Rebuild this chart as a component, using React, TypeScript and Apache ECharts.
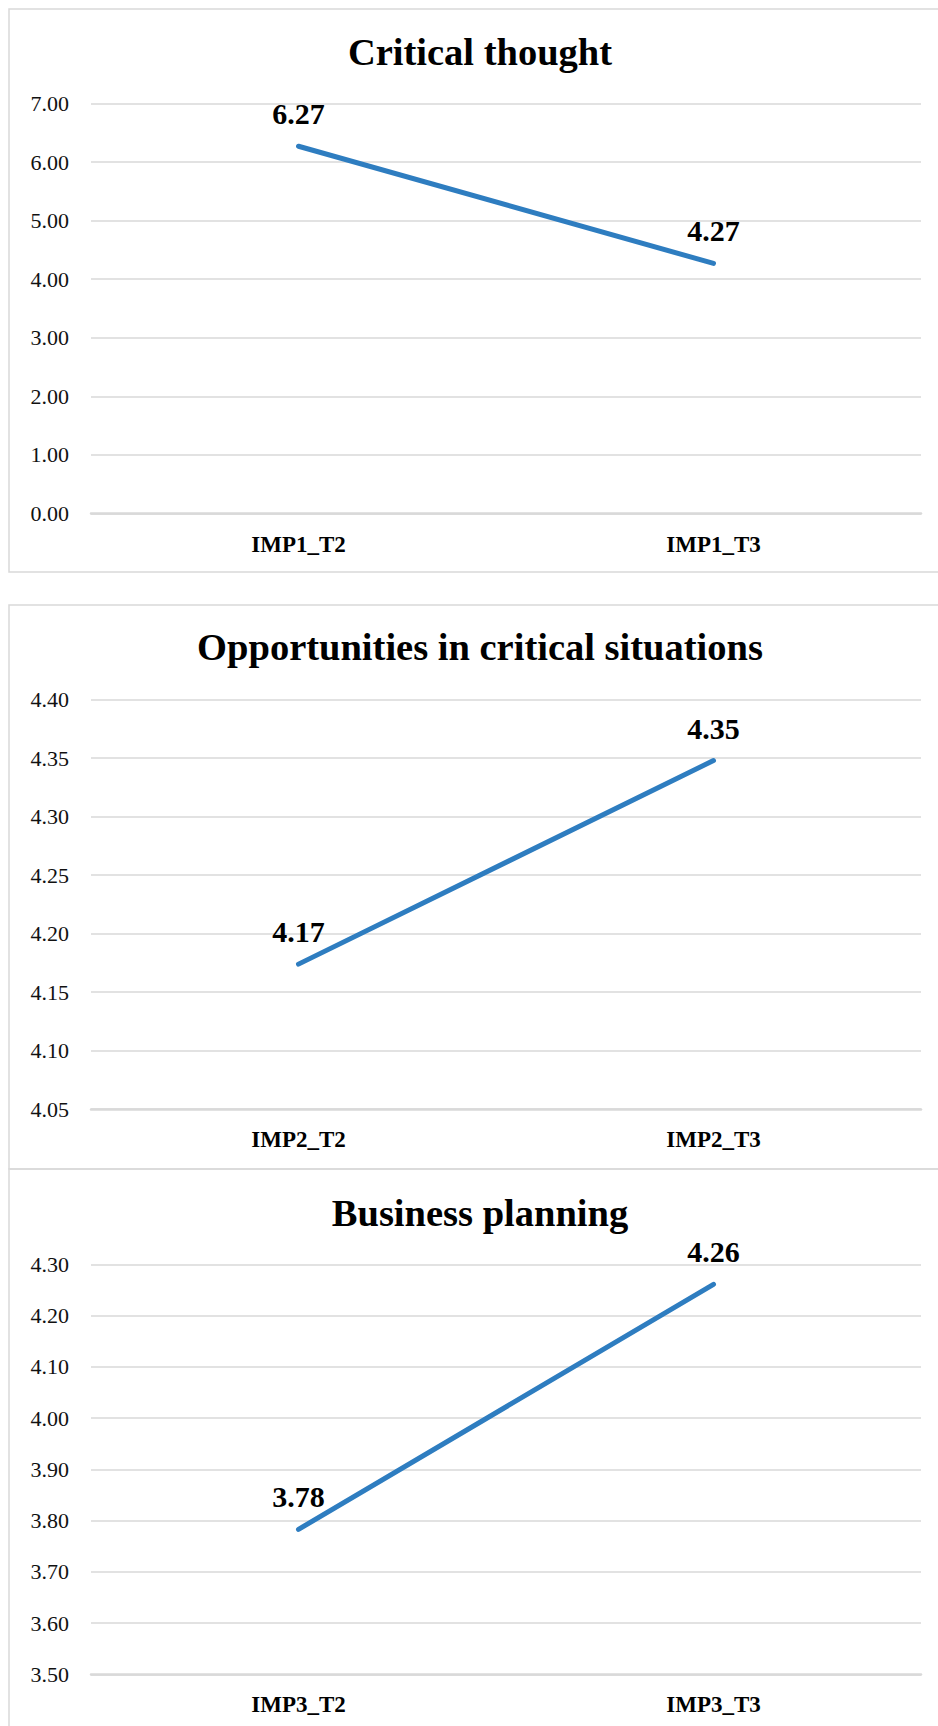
import React, { useEffect, useRef } from "react";
import * as echarts from "echarts";

const titles = ["Critical thought", "Opportunities in critical situations", "Business planning"];
const categories1 = ["IMP1_T2", "IMP1_T3"];
const categories2 = ["IMP2_T2", "IMP2_T3"];
const categories3 = ["IMP3_T2", "IMP3_T3"];
const values1 = [6.27, 4.27];
const values2 = [4.174, 4.348];
const values3 = [3.783, 4.261];
const yMin = [0, 4.05, 3.5];
const yMax = [7, 4.4, 4.3];
const yInterval = [1, 0.05, 0.1];

const FONT = "'Liberation Serif', 'Times New Roman', serif";
const GRID_COLOR = "#d9d9d9";
const LINE_COLOR = "#2E7DC0";

export default function App() {
  const ref = useRef<HTMLDivElement>(null);
  useEffect(() => {
    if (!ref.current) return;
    const chart = echarts.init(ref.current, null, { renderer: "svg" });
    const cats = [categories1, categories2, categories3];
    const vals = [values1, values2, values3];
    const gridTops = [103.5, 699.7, 1264.4];
    const gridH = [410, 409.5, 410];
    const titleY = [47, 642, 1208];
    const option: any = {
      animation: false,
      backgroundColor: "#ffffff",
      title: titles.map((t, i) => ({
        text: t,
        left: 475,
        top: titleY[i],
        textAlign: "center",
        textVerticalAlign: "middle",
        textStyle: { fontFamily: FONT, fontWeight: "bold", fontSize: 38.5, color: "#000" },
      })),
      graphic: [
        { type: "rect", shape: { x: 9, y: 9, width: 940, height: 563 }, style: { fill: "none", stroke: GRID_COLOR, lineWidth: 1.5 }, silent: true, z: -1 },
        { type: "rect", shape: { x: 9, y: 605, width: 940, height: 564 }, style: { fill: "none", stroke: GRID_COLOR, lineWidth: 1.5 }, silent: true, z: -1 },
        { type: "rect", shape: { x: 9, y: 1169, width: 940, height: 580 }, style: { fill: "none", stroke: GRID_COLOR, lineWidth: 1.5 }, silent: true, z: -1 },
      ],
      grid: gridTops.map((t, i) => ({ left: 91, width: 830, top: t, height: gridH[i] })),
      xAxis: cats.map((c, i) => ({
        type: "category",
        gridIndex: i,
        data: c,
        boundaryGap: true,
        axisTick: { show: false },
        axisLine: { show: true, lineStyle: { color: GRID_COLOR, width: 2.5 } },
        axisLabel: { fontFamily: FONT, fontWeight: "bold", fontSize: 23, color: "#000", margin: 19 },
        splitLine: { show: false },
      })),
      yAxis: vals.map((_, i) => ({
        type: "value",
        gridIndex: i,
        min: yMin[i],
        max: yMax[i],
        interval: yInterval[i],
        axisLine: { show: false },
        axisTick: { show: false },
        axisLabel: {
          fontFamily: FONT,
          fontSize: 22,
          color: "#111",
          margin: 22,
          formatter: (v: number) => v.toFixed(2),
        },
        splitLine: { show: true, lineStyle: { color: GRID_COLOR, width: 1.5 } },
      })),
      series: vals.map((v, i) => ({
        type: "line",
        xAxisIndex: i,
        yAxisIndex: i,
        data: v,
        symbol: "circle",
        symbolSize: 1,
        itemStyle: { color: LINE_COLOR },
        lineStyle: { color: LINE_COLOR, width: 5, cap: "round" },
        label: {
          show: true,
          position: "top",
          distance: 17,
          fontFamily: FONT,
          fontWeight: "bold",
          fontSize: 30,
          color: "#000",
          formatter: (p: any) => Number(p.value).toFixed(2),
        },
      })),
    };
    chart.setOption(option);
    return () => chart.dispose();
  }, []);
  return (
    <div
      ref={ref}
      style={{ position: "absolute", left: 0, top: 0, width: 938, height: 1726, background: "#fff" }}
    />
  );
}
